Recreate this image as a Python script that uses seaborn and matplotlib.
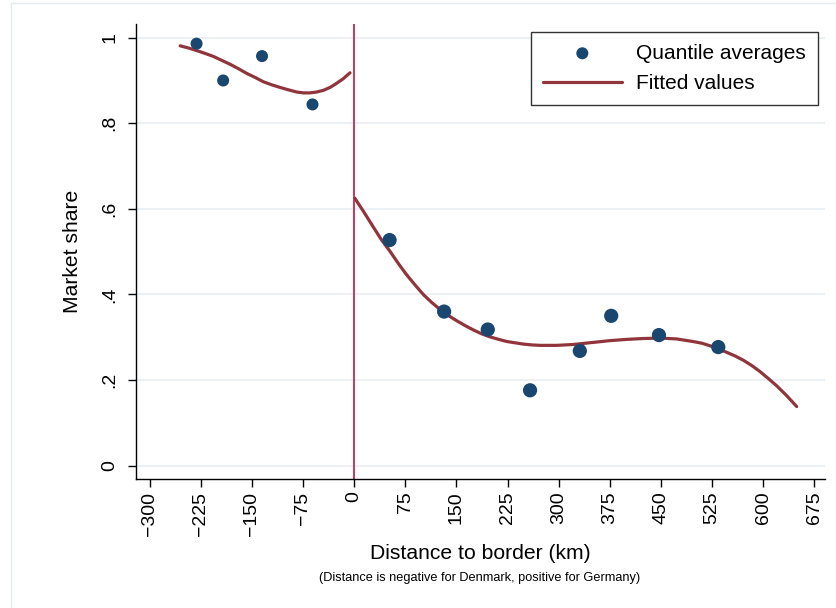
import matplotlib
matplotlib.use("Agg")
import matplotlib.pyplot as plt
import seaborn as sns
import pandas as pd
from matplotlib.patches import Rectangle

# ---- data ----
dk_dist = [-231, -192, -135, -61]
dk_share = [0.986, 0.900, 0.957, 0.844]

de_dist = [52, 132, 196, 258, 331, 377, 447, 534]
de_share = [0.527, 0.360, 0.318, 0.176, 0.268, 0.350, 0.305, 0.277]

fit_dk_x = [-255, -243, -231, -218, -206, -194, -182, -170, -158, -145, -133, -121,
            -109, -96, -84, -74, -65, -55, -45, -35, -26, -16, -6]
fit_dk_y = [0.981, 0.976, 0.970, 0.963, 0.956, 0.947, 0.938, 0.928, 0.917, 0.907,
            0.897, 0.890, 0.884, 0.878, 0.873, 0.871, 0.871, 0.873, 0.877, 0.884,
            0.893, 0.904, 0.918]

fit_de_x = [1, 15, 28, 40, 53, 65, 77, 90, 102, 114, 126, 138, 150, 163, 175, 187,
            199, 212, 224, 236, 248, 261, 273, 297, 321, 351, 375, 400, 424, 449,
            473, 497, 510, 522, 534, 546, 559, 571, 583, 595, 607, 620, 634, 649]
fit_de_y = [0.625, 0.591, 0.558, 0.528, 0.500, 0.472, 0.446, 0.421, 0.399, 0.381,
            0.365, 0.351, 0.339, 0.327, 0.317, 0.308, 0.301, 0.295, 0.290, 0.287,
            0.284, 0.282, 0.281, 0.281, 0.283, 0.288, 0.292, 0.295, 0.297, 0.298,
            0.296, 0.290, 0.286, 0.280, 0.273, 0.265, 0.256, 0.246, 0.234, 0.220,
            0.204, 0.186, 0.164, 0.138]

x_ticks = [-300, -225, -150, -75, 0, 75, 150, 225, 300, 375, 450, 525, 600, 675]
x_tick_labels = ["\u2212300", "\u2212225", "\u2212150", "\u221275", "0", "75", "150",
                 "225", "300", "375", "450", "525", "600", "675"]
y_ticks = [0, 0.2, 0.4, 0.6, 0.8, 1.0]
y_tick_labels = ["0", ".2", ".4", ".6", ".8", "1"]

# ---- style ----
sns.set_style("white")
plt.rcParams['font.family'] = ['Liberation Sans', 'DejaVu Sans']
plt.rcParams['text.color'] = 'black'
plt.rcParams['axes.labelcolor'] = 'black'
plt.rcParams['xtick.color'] = 'black'
plt.rcParams['ytick.color'] = 'black'

NAVY = "#1a476f"
MAROON = "#90353b"
RED = "#c4143c"
GRID = "#e8eef2"

fig = plt.figure(figsize=(8.36, 6.08), dpi=100)
# outer light frame (Stata graph region border)
fig.patches.append(Rectangle((10.5 / 836, -0.05), 1.2, 1 - 3.3 / 608 + 0.05,
                             transform=fig.transFigure, fill=False,
                             edgecolor="#e3ecee", linewidth=1.0))
ax = fig.add_axes([136 / 836, 1 - 479.3 / 608, (825 - 136) / 836, (479.3 - 24) / 608])

df_dk = pd.DataFrame({"x": dk_dist, "y": dk_share})
df_de = pd.DataFrame({"x": de_dist, "y": de_share})
fdk = pd.DataFrame({"x": fit_dk_x, "y": fit_dk_y})
fde = pd.DataFrame({"x": fit_de_x, "y": fit_de_y})

for yv in y_ticks:
    ax.axhline(yv, color=GRID, linewidth=1.2, zorder=0)

ax.axvline(0, color=RED, linewidth=1.2, zorder=1)

sns.scatterplot(data=df_dk, x="x", y="y", ax=ax, color=NAVY, s=75,
                edgecolor="none", zorder=3, label="Quantile averages")
sns.scatterplot(data=df_de, x="x", y="y", ax=ax, color=NAVY, s=105,
                edgecolor="none", zorder=3)
sns.lineplot(data=fdk, x="x", y="y", ax=ax, color=MAROON, linewidth=2.3,
             zorder=2, label="Fitted values")
sns.lineplot(data=fde, x="x", y="y", ax=ax, color=MAROON, linewidth=2.3, zorder=2)

ax.set_xlim(-319.8, 690.5)
ax.set_ylim(-0.032, 1.032)

ax.set_xticks(x_ticks)
ax.set_xticklabels(x_tick_labels, rotation=90, fontsize=14)
ax.set_yticks(y_ticks)
ax.set_yticklabels(y_tick_labels, rotation=90, fontsize=14, va="center")

ax.tick_params(axis="both", direction="out", length=5.8, width=1.0, color="black",
               labelcolor="black", bottom=True, left=True)
ax.tick_params(axis="x", pad=3)
ax.tick_params(axis="y", pad=7)

for side in ["top", "right"]:
    ax.spines[side].set_visible(False)
for side in ["left", "bottom"]:
    ax.spines[side].set_color("black")
    ax.spines[side].set_linewidth(1.0)

ax.set_xlabel("Distance to border (km)", fontsize=15.2, labelpad=6, color="black")
ax.set_ylabel("Market share", fontsize=15.2, labelpad=14, color="black")

fig.text(480 / 836, 1 - 578 / 608,
         "(Distance is negative for Denmark, positive for Germany)",
         ha="center", va="center", fontsize=9.2, color="black")

leg = ax.legend(loc="upper right", bbox_to_anchor=(817.7 / 836, 1 - 32.3 / 608),
                bbox_transform=fig.transFigure, frameon=True, fancybox=False,
                edgecolor="black", fontsize=15, handlelength=3.8,
                handletextpad=0.7, borderpad=0.55, labelspacing=0.55,
                borderaxespad=0)
leg.get_frame().set_linewidth(1.0)
for t in leg.get_texts():
    t.set_color("black")

fig.savefig("out.png", dpi=100)
